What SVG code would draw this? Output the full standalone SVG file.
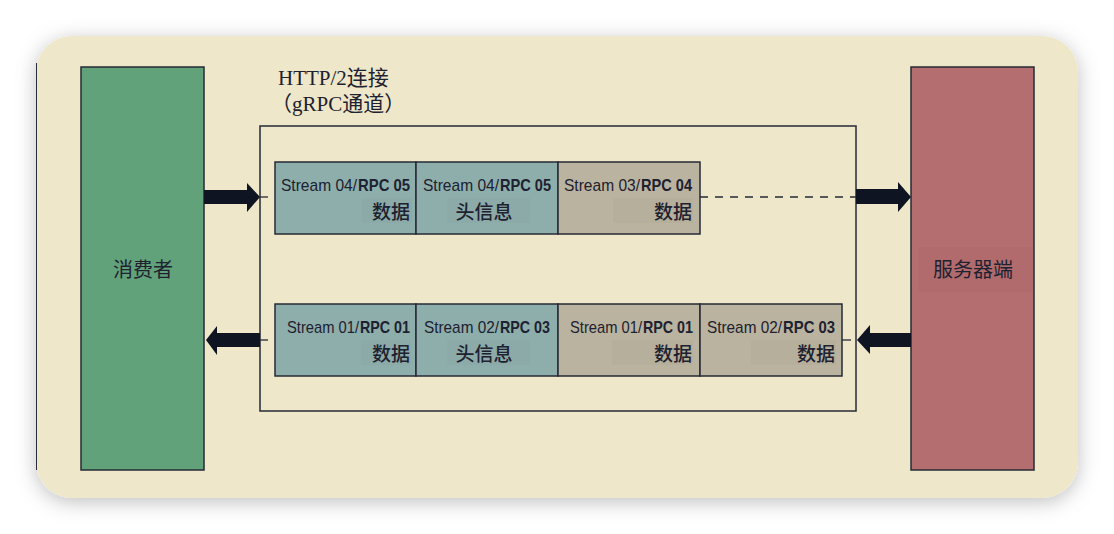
<svg xmlns="http://www.w3.org/2000/svg" width="1114" height="534" viewBox="0 0 1114 534">
<defs>
<filter id="sh" x="-10%" y="-10%" width="120%" height="130%">
<feDropShadow dx="0" dy="4" stdDeviation="10" flood-color="#000" flood-opacity="0.25"/>
</filter>
<style>
.box{stroke:#262a36;stroke-width:1.5}
.teal{fill:#8EAEAC}
.tan{fill:#BAB39F}
.hl{fill:#000;fill-opacity:0.018}
.st{font-family:"Liberation Sans","Noto Sans",sans-serif;font-size:17px;fill:#1d2130}
.r{text-anchor:end}
.b{font-weight:bold}
.cj{font-family:"Noto Sans CJK SC",sans-serif;font-size:19px;font-weight:500;fill:#1d2130}
.lbl{font-family:"Noto Sans CJK SC",sans-serif;font-size:20px;fill:#1d2130}
.ttl{font-family:"Liberation Serif","Noto Sans CJK SC",serif;font-size:21px;fill:#1d2130}
.arr{fill:#0e1422}
.tick{stroke:#262a36;stroke-width:1.3}
</style>
</defs>
<rect width="1114" height="534" fill="#ffffff"/>
<rect x="36" y="36" width="1042" height="462" rx="36" fill="#EEE7C9" filter="url(#sh)"/>
<line x1="36.5" y1="63" x2="36.5" y2="470" stroke="#2a2e3a" stroke-width="1"/>

<g id="consumer">
<rect class="box" x="81" y="67" width="123" height="403" fill="#62A27A"/>
<text class="lbl" x="143" y="277" text-anchor="middle">消费者</text>
</g>

<g id="server">
<rect class="box" x="911" y="67" width="123" height="403" fill="#B56E70"/>
<rect class="hl" x="918" y="247" width="115" height="45"/>
<text class="lbl" x="973" y="277" text-anchor="middle">服务器端</text>
</g>

<g id="connection">
<rect x="260" y="126" width="596" height="285" fill="none" class="box"/>
<text class="ttl" x="278" y="85">HTTP/2连接</text>
<text class="ttl" x="271" y="111">（gRPC通道）</text>
</g>

<g id="top-row">
<g id="t1">
<rect class="box teal" x="275" y="162" width="141" height="72"/>
<rect class="hl" x="362" y="198" width="50" height="25"/>
<text class="st r" x="357" y="191" textLength="76" lengthAdjust="spacingAndGlyphs">Stream 04/</text>
<text class="st b" x="358" y="191" textLength="52" lengthAdjust="spacingAndGlyphs">RPC 05</text>
<text class="cj" x="410" y="219" text-anchor="end">数据</text>
</g>
<g id="t2">
<rect class="box teal" x="416" y="162" width="142" height="72"/>
<rect class="hl" x="447" y="198" width="83" height="25"/>
<text class="st r" x="499" y="191" textLength="76" lengthAdjust="spacingAndGlyphs">Stream 04/</text>
<text class="st b" x="500" y="191" textLength="51" lengthAdjust="spacingAndGlyphs">RPC 05</text>
<text class="cj" x="484" y="219" text-anchor="middle">头信息</text>
</g>
<g id="t3">
<rect class="box tan" x="558" y="162" width="142" height="72"/>
<rect class="hl" x="613" y="198" width="80" height="25"/>
<text class="st r" x="640" y="191" textLength="76" lengthAdjust="spacingAndGlyphs">Stream 03/</text>
<text class="st b" x="641" y="191" textLength="51" lengthAdjust="spacingAndGlyphs">RPC 04</text>
<text class="cj" x="692" y="219" text-anchor="end">数据</text>
</g>
</g>

<g id="bottom-row">
<g id="b1">
<rect class="box teal" x="275" y="304" width="141" height="72"/>
<rect class="hl" x="361" y="340" width="50" height="25"/>
<text class="st r" x="359" y="333" textLength="72" lengthAdjust="spacingAndGlyphs">Stream 01/</text>
<text class="st b" x="360" y="333" textLength="50" lengthAdjust="spacingAndGlyphs">RPC 01</text>
<text class="cj" x="410" y="361" text-anchor="end">数据</text>
</g>
<g id="b2">
<rect class="box teal" x="416" y="304" width="142" height="72"/>
<rect class="hl" x="447" y="340" width="83" height="25"/>
<text class="st r" x="499" y="333" textLength="75" lengthAdjust="spacingAndGlyphs">Stream 02/</text>
<text class="st b" x="500" y="333" textLength="50" lengthAdjust="spacingAndGlyphs">RPC 03</text>
<text class="cj" x="484" y="361" text-anchor="middle">头信息</text>
</g>
<g id="b3">
<rect class="box tan" x="558" y="304" width="142" height="72"/>
<rect class="hl" x="612" y="340" width="81" height="25"/>
<text class="st r" x="642" y="333" textLength="72" lengthAdjust="spacingAndGlyphs">Stream 01/</text>
<text class="st b" x="643" y="333" textLength="50" lengthAdjust="spacingAndGlyphs">RPC 01</text>
<text class="cj" x="692" y="361" text-anchor="end">数据</text>
</g>
<g id="b4">
<rect class="box tan" x="700" y="304" width="142" height="72"/>
<rect class="hl" x="751" y="340" width="85" height="25"/>
<text class="st r" x="782" y="333" textLength="75" lengthAdjust="spacingAndGlyphs">Stream 02/</text>
<text class="st b" x="783" y="333" textLength="52" lengthAdjust="spacingAndGlyphs">RPC 03</text>
<text class="cj" x="835" y="361" text-anchor="end">数据</text>
</g>
</g>

<g id="connectors">
<line class="tick" x1="260" y1="197" x2="268" y2="197"/>
<line class="tick" x1="260" y1="340" x2="268" y2="340"/>
<line class="tick" x1="842" y1="340" x2="851" y2="340"/>
<line x1="700" y1="197" x2="856" y2="197" stroke="#262a36" stroke-width="1.4" stroke-dasharray="8,7"/>
<polygon class="arr" points="204,190 247,190 247,183 260,197 247,212 247,204 204,204"/>
<polygon class="arr" points="856,189 898,189 898,182 911,197 898,212 898,204 856,204"/>
<polygon class="arr" points="260,333 217,333 217,326 206,340 217,355 217,347 260,347"/>
<polygon class="arr" points="911,333 870,333 870,325 857,340 870,354 870,347 911,347"/>
</g>
</svg>
